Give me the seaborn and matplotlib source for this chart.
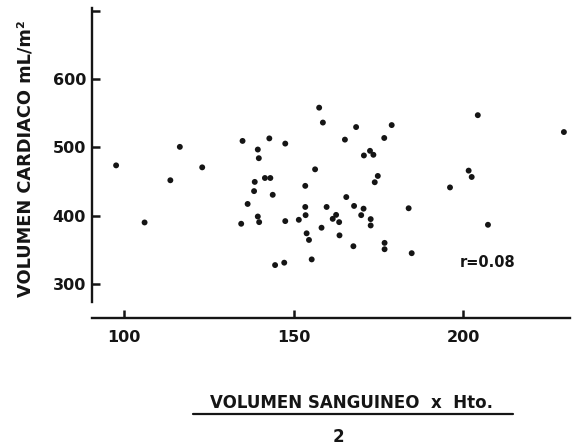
import matplotlib
matplotlib.use("Agg")
import matplotlib.pyplot as plt
import seaborn as sns
import pandas as pd

# Blood volume x Hct / 2 (x) vs cardiac volume mL/m2 (y)
blood_vol = [97.6, 106.0, 113.6, 116.4, 123.0, 134.9, 134.5, 136.4, 139.4, 139.7,
             138.5, 138.3, 139.4, 139.8, 141.5, 143.1, 142.8, 143.8, 147.5, 147.5,
             144.5, 147.2, 151.5, 153.4, 153.4, 153.5, 153.8, 154.5, 155.3, 156.3,
             157.5, 158.6, 158.2, 159.7, 165.1, 168.4, 165.5, 167.8, 161.5, 162.5,
             163.4, 163.5, 167.6, 170.7, 172.5, 173.5, 174.8, 173.9, 170.6, 169.9,
             172.7, 172.7, 176.7, 178.9, 176.8, 176.8, 183.9, 184.8, 196.1, 201.6,
             202.5, 204.3, 207.3, 229.7]
cardiac_vol = [473.5, 389.9, 451.7, 500.6, 470.6, 509.3, 388.0, 417.0, 496.7, 484.0,
               449.3, 435.8, 398.6, 390.4, 455.0, 455.0, 513.0, 430.4, 505.4, 391.9,
               327.5, 331.0, 393.8, 443.5, 412.6, 400.6, 374.0, 364.3, 335.8, 467.7,
               558.0, 536.2, 382.2, 412.6, 511.2, 529.6, 427.1, 414.1, 395.2, 401.0,
               390.4, 371.0, 355.1, 488.0, 494.8, 489.0, 458.0, 448.8, 410.1, 400.6,
               394.8, 385.5, 513.6, 532.5, 360.0, 350.7, 410.7, 344.9, 441.2, 465.8,
               456.5, 547.0, 386.5, 522.3]

x_ticks = [100, 150, 200]
x_tick_labels = ["100", "150", "200"]
y_ticks = [300, 400, 500, 600, 700]
y_tick_labels = ["300", "400", "500", "600", ""]

y_title = "VOLUMEN CARDIACO mL/m²"
x_title = "VOLUMEN SANGUINEO  x  Hto."
x_denom = "2"
r_text = "r=0.08"

df = pd.DataFrame({"x": blood_vol, "y": cardiac_vol})

sns.set_style("ticks")
plt.rcParams['font.family'] = ['DejaVu Sans']
ink = "#151515"

fig = plt.figure(figsize=(5.76, 4.45), dpi=100)
ax = fig.add_axes([91.7/576, 127/445, (570-91.7)/576, (318-8.3)/445])

sns.scatterplot(data=df, x="x", y="y", ax=ax, color=ink, s=18, edgecolor="none", linewidth=0)

ax.set_xlim(90.4, 231.5)
ax.set_ylim(250, 703.5)
ax.set_xticks(x_ticks)
ax.set_xticklabels(x_tick_labels)
ax.set_yticks(y_ticks)
ax.set_yticklabels(y_tick_labels)
ax.set_xlabel("")
ax.set_ylabel("")

for s in ["top", "right"]:
    ax.spines[s].set_visible(False)
for s in ["left", "bottom"]:
    ax.spines[s].set_linewidth(1.7)
    ax.spines[s].set_color(ink)
ax.spines["left"].set_bounds(273, 703.5)

ax.tick_params(axis="both", which="major", direction="in", length=6, width=1.8,
               color=ink, labelcolor=ink, labelsize=11.5)
ax.tick_params(axis="x", pad=9)
ax.tick_params(axis="y", pad=4)
for lbl in ax.get_xticklabels() + ax.get_yticklabels():
    lbl.set_fontweight("bold")

ax.text(0.8286, 0.178, r_text, transform=ax.transAxes, fontsize=10.5,
        fontweight="bold", color=ink, ha="center", va="center")

fig.text(26/576, 1 - 158.5/445, y_title, rotation=90, ha="center", va="center",
         fontsize=12.8, fontweight="bold", color=ink)
fig.text(352/576, 1 - 403/445, x_title, ha="center", va="center",
         fontsize=12, fontweight="bold", color=ink)
fig.add_artist(plt.Line2D([193.3/576, 513.3/576], [1 - 414.3/445, 1 - 414.3/445],
                          transform=fig.transFigure, color=ink, linewidth=1.6))
fig.text(338.3/576, 1 - 436.5/445, x_denom, ha="center", va="center",
         fontsize=12, fontweight="bold", color=ink)

fig.savefig("out.png", dpi=100, facecolor="white")
